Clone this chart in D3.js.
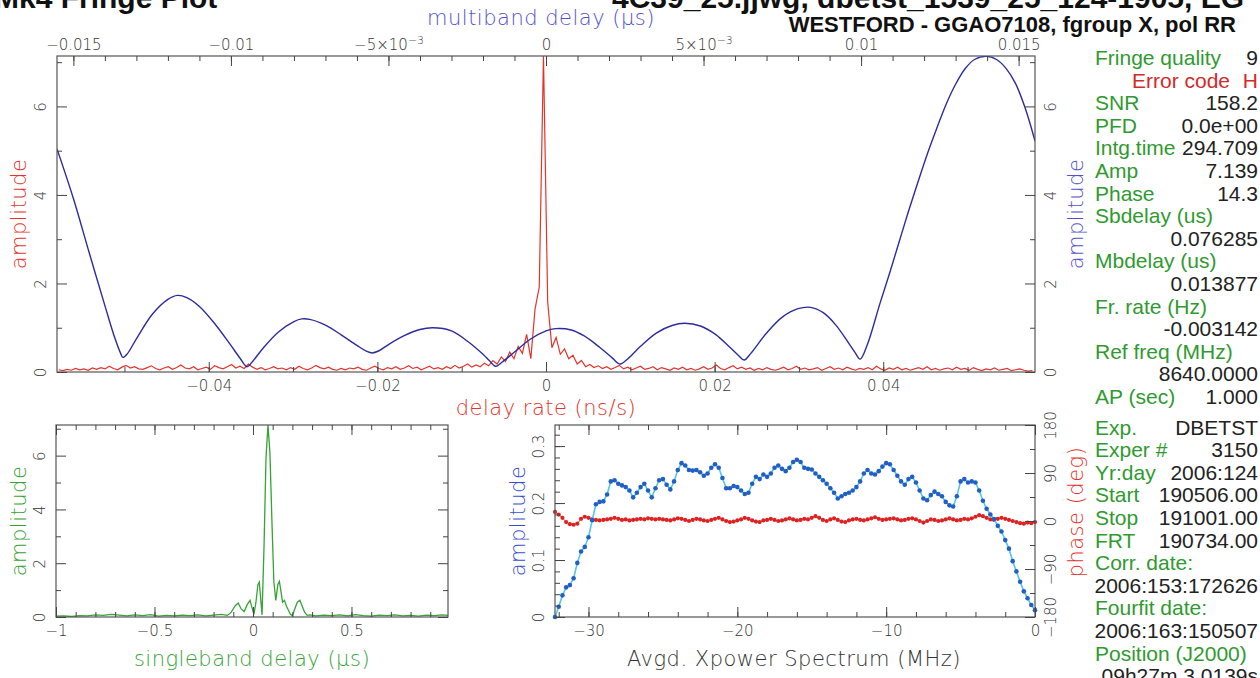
<!DOCTYPE html>
<html>
<head>
<meta charset="utf-8">
<script src="https://cdn.jsdelivr.net/npm/d3@7"></script>
<style>
body { margin: 0; background: #fff; }
svg { display: block; font-family: "DejaVu Sans", sans-serif; }
</style>
</head>
<body>
<script>
// ---- data ----

// delay rate spectrum (red, top panel), sampled every rateStep ns/s
const rateStart = -0.0578, rateStep = 0.0005;
const rateAmp = [
  0.05,0.03,0.06,0.04,0.08,0.05,0.07,0.04,0.09,0.06,
  0.10,0.07,0.13,0.08,0.05,0.11,0.15,0.09,0.12,0.07,
  0.06,0.10,0.14,0.08,0.05,0.09,0.12,0.06,0.10,0.16,
  0.09,0.07,0.12,0.05,0.08,0.11,0.06,0.14,0.10,0.07,
  0.12,0.17,0.09,0.13,0.08,0.18,0.11,0.06,0.10,0.05,
  0.08,0.12,0.07,0.09,0.05,0.10,0.06,0.13,0.08,0.05,
  0.09,0.15,0.10,0.07,0.11,0.06,0.04,0.08,0.05,0.09,
  0.07,0.11,0.06,0.04,0.09,0.13,0.08,0.05,0.10,0.07,
  0.12,0.06,0.09,0.14,0.08,0.11,0.05,0.09,0.13,0.07,
  0.10,0.06,0.12,0.08,0.15,0.09,0.13,0.18,0.11,0.16,
  0.12,0.20,0.14,0.26,0.18,0.34,0.24,0.45,0.30,0.58,
  0.42,0.85,0.30,1.42,1.92,7.14,1.58,0.55,0.78,0.40,
  0.52,0.30,0.38,0.18,0.26,0.12,0.17,0.10,0.14,0.08,
  0.12,0.06,0.10,0.15,0.07,0.11,0.05,0.09,0.13,0.06,
  0.08,0.12,0.05,0.10,0.07,0.04,0.09,0.06,0.11,0.05,
  0.08,0.04,0.07,0.12,0.06,0.09,0.16,0.08,0.05,0.10,
  0.14,0.07,0.11,0.06,0.09,0.04,0.08,0.05,0.10,0.06,
  0.04,0.07,0.11,0.05,0.08,0.13,0.06,0.09,0.05,0.07,
  0.10,0.04,0.08,0.12,0.06,0.09,0.05,0.11,0.07,0.04,
  0.08,0.06,0.10,0.05,0.13,0.07,0.04,0.09,0.06,0.11,
  0.05,0.08,0.04,0.07,0.10,0.06,0.12,0.05,0.08,0.04,
  0.07,0.09,0.05,0.11,0.06,0.08,0.04,0.10,0.06,0.03,
  0.07,0.05,0.09,0.04,0.06,0.08,0.03,0.05,0.07,0.04,
  0.02,0.03
];

// multiband delay function (blue, top panel)
const mbdX = [
  -0.01552,-0.0150,-0.0145,-0.0140,-0.0137,-0.0135,-0.01343,-0.0133,-0.0130,-0.0125,
  -0.0120,-0.0117,-0.0114,-0.0110,-0.0105,-0.0100,-0.0097,-0.00949,-0.0093,-0.0090,
  -0.0085,-0.0080,-0.00775,-0.0075,-0.0070,-0.0065,-0.0060,-0.0057,-0.00552,-0.0053,
  -0.0050,-0.0045,-0.0040,-0.0036,-0.0030,-0.0025,-0.0020,-0.0018,-0.0016,-0.0014,
  -0.0010,-0.0005,0.0000,0.0003,0.0008,0.0012,0.0017,0.0021,0.00235,0.0026,
  0.0030,0.0035,0.0040,0.0044,0.0049,0.0054,0.0058,0.0061,0.00629,0.0065,
  0.0070,0.0075,0.0080,0.0084,0.0088,0.0092,0.0096,0.0098,0.00997,0.0102,
  0.0106,0.0109,0.0112,0.0115,0.0118,0.0121,0.0124,0.0127,0.0130,0.0133,
  0.0136,0.01397,0.0143,0.0146,0.0149,0.0152,0.01552
];
const mbdAmp = [
  5.04,3.92,2.70,1.50,0.80,0.42,0.33,0.40,0.75,1.30,
  1.64,1.73,1.68,1.48,1.08,0.60,0.30,0.12,0.25,0.52,
  0.90,1.14,1.20,1.19,1.06,0.84,0.60,0.47,0.43,0.48,
  0.62,0.82,0.96,1.00,0.93,0.70,0.40,0.26,0.13,0.22,
  0.45,0.74,0.93,0.98,0.95,0.82,0.56,0.32,0.18,0.30,
  0.58,0.88,1.05,1.10,1.04,0.84,0.58,0.38,0.27,0.42,
  0.88,1.24,1.43,1.46,1.34,1.06,0.66,0.45,0.29,0.62,
  1.55,2.22,2.92,3.62,4.28,4.92,5.50,6.05,6.50,6.85,
  7.06,7.13,7.06,6.86,6.52,5.98,5.22
];

// singleband delay function (green, lower left)
const sbdX = [
  -1.00,-0.96,-0.92,-0.88,-0.84,-0.80,-0.76,-0.72,-0.68,-0.64,
  -0.60,-0.56,-0.52,-0.48,-0.44,-0.40,-0.36,-0.32,-0.28,-0.24,
  -0.20,-0.16,-0.13,-0.11,-0.09,-0.075,-0.06,-0.045,-0.03,-0.015,
  -0.005,0.005,0.015,0.025,0.032,0.040,0.046,0.056,0.066,0.076,
  0.086,0.096,0.106,0.116,0.126,0.134,0.142,0.150,0.160,0.170,
  0.180,0.190,0.200,0.212,0.225,0.238,0.250,0.262,0.275,0.29,
  0.32,0.36,0.40,0.44,0.48,0.52,0.56,0.60,0.64,0.68,
  0.72,0.76,0.80,0.84,0.88,0.92,0.96,0.99
];
const sbdAmp = [
  0.03,0.04,0.02,0.05,0.04,0.08,0.06,0.10,0.07,0.04,
  0.08,0.05,0.09,0.03,0.06,0.04,0.07,0.05,0.08,0.04,
  0.07,0.10,0.06,0.18,0.42,0.52,0.30,0.20,0.45,0.62,
  0.35,0.10,0.55,1.20,1.30,0.60,0.08,2.60,5.90,7.14,
  6.10,3.60,1.30,0.62,1.20,1.32,0.95,0.55,0.62,0.40,
  0.25,0.10,0.05,0.30,0.55,0.62,0.40,0.18,0.06,0.08,
  0.04,0.07,0.05,0.08,0.04,0.09,0.05,0.03,0.07,0.05,
  0.08,0.04,0.06,0.03,0.07,0.05,0.08,0.06
];

// averaged cross-power spectrum (lower right), every xpStep MHz
const xpStart = -32.25, xpStep = 0.25;
const xpAmp = [
  0.000,0.018,0.038,0.052,0.056,0.068,0.095,0.115,0.123,0.140,
  0.170,0.198,0.202,0.203,0.215,0.238,0.240,0.234,0.231,0.228,
  0.222,0.210,0.218,0.228,0.234,0.222,0.210,0.226,0.240,0.242,
  0.232,0.224,0.238,0.258,0.270,0.266,0.258,0.257,0.258,0.254,
  0.248,0.252,0.262,0.268,0.262,0.244,0.226,0.226,0.230,0.228,
  0.222,0.216,0.218,0.234,0.246,0.242,0.250,0.246,0.252,0.262,
  0.266,0.260,0.256,0.262,0.272,0.276,0.272,0.262,0.260,0.259,
  0.252,0.246,0.240,0.234,0.226,0.218,0.208,0.212,0.216,0.218,
  0.222,0.228,0.238,0.252,0.258,0.252,0.250,0.256,0.264,0.270,
  0.268,0.258,0.248,0.238,0.232,0.242,0.246,0.236,0.222,0.208,
  0.205,0.214,0.220,0.216,0.212,0.202,0.196,0.194,0.212,0.238,
  0.242,0.236,0.238,0.236,0.222,0.204,0.190,0.180,0.172,0.160,
  0.150,0.135,0.120,0.098,0.080,0.062,0.045,0.033,0.021,0.012
];
const xpPhase = [
  17,12,6,-2,-6,-7,-5,4,8,6,
  3,2,1,2,3,4,6,4,2,3,
  1,2,3,4,3,5,4,3,4,3,
  2,1,3,5,4,2,0,2,4,3,
  1,0,2,4,6,3,0,-2,-1,1,
  3,6,4,1,-1,-2,1,2,4,2,
  0,1,3,5,3,1,2,4,3,6,
  9,6,2,0,3,5,2,-1,-2,1,
  3,4,2,1,3,5,7,4,2,3,
  4,5,3,1,2,4,5,3,0,-3,
  0,3,2,0,1,3,5,3,1,2,
  4,3,5,8,11,9,6,3,2,4,
  6,4,2,0,-2,-4,-5,-3,-4,-2
];

// tick values and labels
const rateTicks = [-0.04, -0.02, 0, 0.02, 0.04];
const mbdTicks = [-0.015, -0.01, -0.005, 0, 0.005, 0.01, 0.015];
const mbdTickLabels = ["−0.015", "−0.01", "−5×10|−3", "0", "5×10|−3", "0.01", "0.015"];
const ampTicks = [0, 2, 4, 6];
const sbdTicks = [-1, -0.5, 0, 0.5];
const xpTicks = [-30, -20, -10, 0];
const xpAmpTicks = [0, 0.1, 0.2, 0.3];
const phaseTicks = [-180, -90, 0, 90, 180];

// text block on the right
const infoLabels = ["Fringe quality","Error code","SNR","PFD","Intg.time","Amp","Phase",
  "Sbdelay (us)","","Mbdelay (us)","","Fr. rate (Hz)","","Ref freq (MHz)","","AP (sec)",
  "Exp.","Exper #","Yr:day","Start","Stop","FRT","Corr. date:","","Fourfit date:","",
  "Position (J2000)",""];
const infoValues = ["9","H","158.2","0.0e+00","294.709","7.139","14.3",
  "","0.076285","","0.013877","","-0.003142","","8640.0000","1.000",
  "DBETST","3150","2006:124","190506.00","191001.00","190734.00","","2006:153:172626","",
  "2006:163:150507","","09h27m 3.0139s"];

// ---- drawing ----
const W = 1260, H = 678;
const svg = d3.select("body").append("svg").attr("width", W).attr("height", H);
svg.append("rect").attr("width", W).attr("height", H).attr("fill", "#fff");

const RED = "#e3342c", BLUE = "#2c2c9c", BLUE_LBL = "#5252cc", GREEN = "#35a335";
const fmtNum = d => (d < 0 ? "−" : "") + Math.abs(d);

function frame(x0, x1, y0, y1) {
  svg.append("rect").attr("x", x0).attr("y", y0)
    .attr("width", x1 - x0).attr("height", y1 - y0)
    .attr("fill", "none").attr("stroke", "#555").attr("stroke-width", 1.2);
}

function ticks(gen, scale, vals, len, tx, ty) {
  svg.append("g").attr("transform", `translate(${tx},${ty})`)
    .call(gen(scale).tickValues(vals).tickSize(-len).tickSizeOuter(0).tickFormat(""))
    .call(a => {
      a.select(".domain").remove();
      a.selectAll("line").attr("stroke", "#444").attr("stroke-width", 1);
    });
}

function labels(gen, scale, vals, fmt, pad, tx, ty) {
  const a = svg.append("g").attr("transform", `translate(${tx},${ty})`)
    .call(gen(scale).tickValues(vals).tickSize(0).tickPadding(pad).tickFormat(fmt));
  a.select(".domain").remove();
  a.attr("font-size", null).attr("font-family", null);
  a.selectAll("text").attr("fill", "#333").attr("font-size", 15).attr("font-weight", 300);
  return a;
}

// rotated y labels, as the original plotting package writes them
function vlabels(gen, scale, vals, fmt, off, tx, ty) {
  const a = labels(gen, scale, vals, fmt, 0, tx, ty);
  a.attr("text-anchor", "middle");
  a.selectAll("text").attr("x", null).attr("dy", null)
    .attr("transform", `translate(${off},0) rotate(-90)`);
  return a;
}

function axisTitle(txt, x, y, color, rot) {
  const t = svg.append("text").attr("x", x).attr("y", y).attr("fill", color)
    .attr("font-size", 21).attr("font-weight", 300).attr("letter-spacing", 0.5)
    .attr("text-anchor", "middle").text(txt);
  if (rot) t.attr("transform", `rotate(-90,${x},${y})`);
  return t;
}

function clip(id, x0, x1, y0, y1) {
  svg.append("clipPath").attr("id", id).append("rect")
    .attr("x", x0).attr("y", y0).attr("width", x1 - x0).attr("height", y1 - y0);
  return `url(#${id})`;
}

// ---- header ----
svg.append("text").attr("x", -6).attr("y", 8).attr("font-family", "Liberation Sans, Arial")
  .attr("font-weight", "bold").attr("font-size", 30).attr("fill", "#111").text("Mk4 Fringe Plot");
svg.append("text").attr("x", 612).attr("y", 8).attr("font-family", "Liberation Sans, Arial")
  .attr("font-weight", "bold").attr("font-size", 30).attr("fill", "#111")
  .text("4C39_25.jjwg, dbetst_1539_25_124-1905, EG");
svg.append("text").attr("x", 1236).attr("y", 32).attr("font-family", "Liberation Sans, Arial")
  .attr("font-weight", "bold").attr("font-size", 22).attr("fill", "#111")
  .attr("text-anchor", "end").text("WESTFORD - GGAO7108, fgroup X, pol RR");

// ---- top panel ----
const T = { l: 57, r: 1035, t: 56, b: 372 };
const rateX = d3.scaleLinear().domain([-0.058, 0.058]).range([T.l, T.r]);
const mbdXs = d3.scaleLinear().domain([-0.01552, 0.01552]).range([T.l, T.r]);
const ampY = d3.scaleLinear().domain([0, 7.139]).range([T.b, T.t]);

const topClip = clip("cTop", T.l, T.r, T.t, T.b);
svg.append("path").datum(rateAmp).attr("clip-path", topClip)
  .attr("fill", "none").attr("stroke", RED).attr("stroke-width", 1.2)
  .attr("d", d3.line().x((d, i) => rateX(rateStart + i * rateStep)).y(d => ampY(d)));
svg.append("path").datum(mbdX.map((x, i) => [x, mbdAmp[i]])).attr("clip-path", topClip)
  .attr("fill", "none").attr("stroke", BLUE).attr("stroke-width", 1.4)
  .attr("d", d3.line().x(d => mbdXs(d[0])).y(d => ampY(d[1])).curve(d3.curveCatmullRom.alpha(0.5)));

frame(T.l, T.r, T.t, T.b);
ticks(d3.axisBottom, rateX, rateTicks, 10, 0, T.b);
ticks(d3.axisBottom, rateX, d3.range(-0.05, 0.051, 0.01), 5, 0, T.b);
ticks(d3.axisTop, mbdXs, mbdTicks, 10, 0, T.t);
ticks(d3.axisTop, mbdXs, d3.range(-15, 16).map(d => d / 1000), 5, 0, T.t);
[[d3.axisLeft, T.l], [d3.axisRight, T.r]].forEach(([g, x]) => {
  ticks(g, ampY, ampTicks, 10, x, 0);
  ticks(g, ampY, [1, 3, 5, 7], 5, x, 0);
});
labels(d3.axisBottom, rateX, rateTicks, fmtNum, 8, 0, T.b);
const topLbl = labels(d3.axisTop, mbdXs, mbdTicks, (d, i) => mbdTickLabels[i], 6, 0, T.t);
topLbl.selectAll("text").each(function (d, i) {
  const s = mbdTickLabels[i];
  if (s.includes("|")) {
    const [base, ex] = s.split("|");
    const t = d3.select(this).text(null);
    t.append("tspan").text(base);
    t.append("tspan").attr("dy", "-0.55em").attr("font-size", "0.72em").text(ex);
  }
});
vlabels(d3.axisLeft, ampY, ampTicks, d => d, -11, T.l, 0);
vlabels(d3.axisRight, ampY, ampTicks, d => d, 21, T.r, 0);
axisTitle("amplitude", 26, (T.t + T.b) / 2, RED, true);
axisTitle("amplitude", 1083, (T.t + T.b) / 2, BLUE_LBL, true);
axisTitle("delay rate (ns/s)", 546, 415, RED, false);
axisTitle("multiband delay (µs)", 541, 25, BLUE_LBL, false);

// ---- lower left: singleband delay ----
const S = { l: 56, r: 448, t: 425, b: 617 };
const sbdXs = d3.scaleLinear().domain([-1, 0.99]).range([S.l, S.r]);
const sbdY = d3.scaleLinear().domain([0, 7.139]).range([S.b, S.t]);
svg.append("path").datum(sbdX.map((x, i) => [x, sbdAmp[i]])).attr("clip-path", clip("cSbd", S.l, S.r, S.t, S.b))
  .attr("fill", "none").attr("stroke", GREEN).attr("stroke-width", 1.3)
  .attr("d", d3.line().x(d => sbdXs(d[0])).y(d => sbdY(d[1])));
frame(S.l, S.r, S.t, S.b);
[[d3.axisBottom, S.b], [d3.axisTop, S.t]].forEach(([g, y]) => {
  ticks(g, sbdXs, sbdTicks, 10, 0, y);
  ticks(g, sbdXs, d3.range(-10, 10).map(d => d / 10), 5, 0, y);
});
[[d3.axisLeft, S.l], [d3.axisRight, S.r]].forEach(([g, x]) => {
  ticks(g, sbdY, ampTicks, 10, x, 0);
  ticks(g, sbdY, [1, 3, 5, 7], 5, x, 0);
});
labels(d3.axisBottom, sbdXs, sbdTicks, fmtNum, 8, 0, S.b);
vlabels(d3.axisLeft, sbdY, ampTicks, d => d, -11, S.l, 0);
axisTitle("amplitude", 26, (S.t + S.b) / 2, GREEN, true);
axisTitle("singleband delay (µs)", 252, 666, GREEN, false);

// ---- lower right: cross-power spectrum ----
const X = { l: 555, r: 1035, t: 425, b: 617 };
const xpX = d3.scaleLinear().domain([-32.25, 0]).range([X.l, X.r]);
const xpY = d3.scaleLinear().domain([0, 0.337]).range([X.b, X.t]);
const phY = d3.scaleLinear().domain([-180, 180]).range([X.b, X.t]);
const xpClip = clip("cXp", X.l - 4, X.r + 4, X.t, X.b + 4);
const xf = (d, i) => xpX(xpStart + i * xpStep);

const gxp = svg.append("g").attr("clip-path", xpClip);
gxp.append("path").datum(xpPhase).attr("fill", "none").attr("stroke", "#e84a44").attr("stroke-width", 1)
  .attr("d", d3.line().x(xf).y(d => phY(d)));
gxp.selectAll("circle.ph").data(xpPhase).join("circle").attr("class", "ph")
  .attr("cx", xf).attr("cy", d => phY(d)).attr("r", 2.1).attr("fill", "#dd2222");
gxp.append("path").datum(xpAmp).attr("fill", "none").attr("stroke", "#55c6e6").attr("stroke-width", 1.6)
  .attr("d", d3.line().x(xf).y(d => xpY(d)));
gxp.selectAll("circle.am").data(xpAmp).join("circle").attr("class", "am")
  .attr("cx", xf).attr("cy", d => xpY(d)).attr("r", 2.3).attr("fill", "#2060c4");

frame(X.l, X.r, X.t, X.b);
[[d3.axisBottom, X.b], [d3.axisTop, X.t]].forEach(([g, y]) => {
  ticks(g, xpX, xpTicks, 10, 0, y);
  ticks(g, xpX, d3.range(-32, 1, 2), 5, 0, y);
});
ticks(d3.axisLeft, xpY, xpAmpTicks, 10, X.l, 0);
ticks(d3.axisLeft, xpY, d3.range(0, 17).map(d => d * 0.02), 5, X.l, 0);
ticks(d3.axisRight, phY, phaseTicks, 10, X.r, 0);
ticks(d3.axisRight, phY, d3.range(-180, 181, 45), 5, X.r, 0);
labels(d3.axisBottom, xpX, xpTicks, fmtNum, 8, 0, X.b);
vlabels(d3.axisLeft, xpY, xpAmpTicks, d => d, -11, X.l, 0);
vlabels(d3.axisRight, phY, phaseTicks, fmtNum, 21, X.r, 0);
axisTitle("amplitude", 525, (X.t + X.b) / 2, "#3a4fd0", true);
axisTitle("phase (deg)", 1083, 512, RED, true);
axisTitle("Avgd. Xpower Spectrum (MHz)", 794, 666, "#333", false);

// ---- text block on the right ----
const info = svg.append("g").attr("font-family", "Liberation Sans, Arial").attr("font-size", 21);
infoLabels.forEach((lab, i) => {
  const y = 58 + i * 22.6 + (i >= 16 ? 8 : 0) + 7;
  const isErr = lab === "Error code";
  if (lab) info.append("text").attr("x", isErr ? 1230 : 1095).attr("y", y)
    .attr("text-anchor", isErr ? "end" : "start")
    .attr("fill", isErr ? "#d42a2a" : "#2f9a2f").text(lab);
  if (infoValues[i]) info.append("text").attr("x", 1258).attr("y", y)
    .attr("text-anchor", "end").attr("fill", isErr ? "#d42a2a" : "#222").text(infoValues[i]);
});
</script>
</body>
</html>
